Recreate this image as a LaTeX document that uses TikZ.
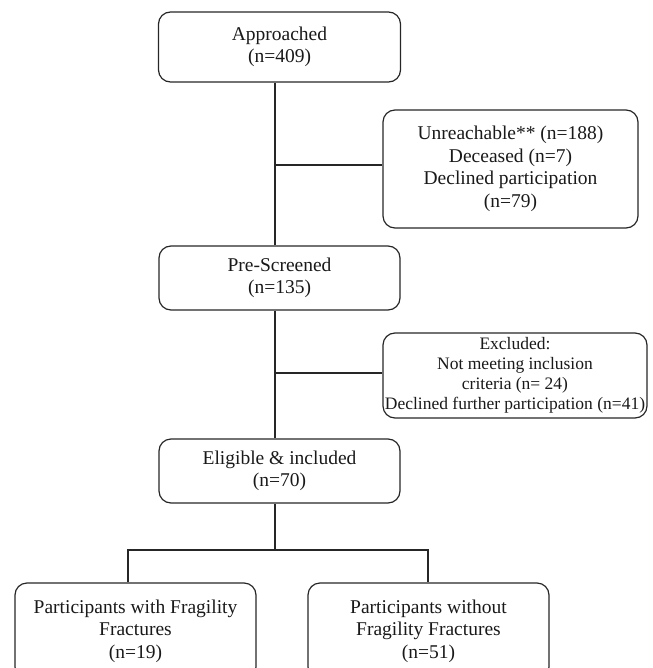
\documentclass[tikz,border=0pt]{standalone}
\usepackage{fontspec}
\setmainfont{Liberation Serif}
\begin{document}
\begin{tikzpicture}[x=1pt,y=-1pt,
  box/.style={draw=black!85, line width=1.2pt, rounded corners=12pt, align=center,
    font=\fontsize{19.5}{22.5}\selectfont, inner sep=0pt, text=black!90},
  smallbox/.style={box, font=\fontsize{17.5}{20}\selectfont},
  conn/.style={draw=black!85, line width=1.2pt}]
\useasboundingbox (0,0) rectangle (652,668);
\clip (0,0) rectangle (652,668);
\node[box, minimum width=242pt, minimum height=70pt] (app) at (279.5,47) {Approached\\(n=409)};
\node[box, minimum width=255pt, minimum height=118pt] (unr) at (510.5,169) {Unreachable** (n=188)\\Deceased (n=7)\\Declined participation\\(n=79)};
\node[box, minimum width=241pt, minimum height=64pt] (pre) at (279.5,278) {Pre-Screened\\(n=135)};
\node[smallbox, minimum width=264pt, minimum height=85pt] (exc) at (515,375.5) {Excluded:\\Not meeting inclusion\\criteria (n= 24)\\Declined further participation (n=41)};
\node[box, minimum width=241pt, minimum height=64pt] (eli) at (279.5,471) {Eligible \& included\\(n=70)};
\node[box, minimum width=241pt, minimum height=96pt] (lft) at (135.5,631) {Participants with Fragility\\Fractures\\(n=19)};
\node[box, minimum width=241pt, minimum height=96pt] (rgt) at (428.5,631) {Participants without\\Fragility Fractures\\(n=51)};
\coordinate (tx) at (275,0);
\coordinate (split) at (275,550);
\coordinate (bl) at (128,550);
\coordinate (br) at (428,550);
\path[conn] (app.south -| tx) -- (pre.north -| tx);
\path[conn] ([yshift=4pt]unr.west -| tx) -- ([yshift=4pt]unr.west);
\path[conn] (pre.south -| tx) -- (eli.north -| tx);
\path[conn] ([yshift=2.5pt]exc.west -| tx) -- ([yshift=2.5pt]exc.west);
\path[conn] (eli.south -| tx) -- (split);
\path[conn] (lft.north -| bl) -- (bl) -- (br) -- (rgt.north -| br);
\end{tikzpicture}
\end{document}
